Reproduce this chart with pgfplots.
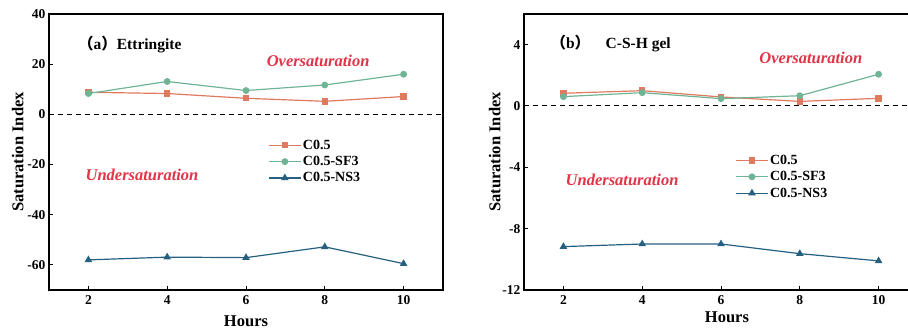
\documentclass[border=0pt]{standalone}
\usepackage{pgfplots}
\pgfplotsset{compat=1.18}
\usepackage{fontspec}
\setmainfont{Liberation Serif}
\newfontfamily\cjk{Noto Sans CJK SC}
\definecolor{cA}{RGB}{224,122,95}
\definecolor{cB}{RGB}{112,180,150}
\definecolor{cC}{RGB}{38,96,128}
\definecolor{cR}{RGB}{224,52,72}
\pgfplotsset{
  myax/.style={
    scale only axis, width=394pt, height=276pt,
    anchor=south west,
    xmin=1, xmax=11,
    xtick={2,4,6,8,10},
    tick align=inside,
    xtick pos=bottom, ytick pos=left,
    major tick length=4pt,
    axis line style={line width=1.3pt},
    every tick/.style={black, line width=1pt},
    tick label style={font=\bfseries\fontsize{13.5}{13.5}\selectfont},
    /pgf/number format/assume math mode=true,
    xticklabel style={yshift=-2pt},
    label style={font=\bfseries\fontsize{16.5}{16.5}\selectfont},
    xlabel={Hours},
    ylabel={Saturation Index},
    xlabel style={at={(axis description cs:0.5,-0.112)}, anchor=center},
    legend cell align=left,
    legend style={draw=none, fill=none, font=\bfseries\fontsize{14}{14}\selectfont,
      row sep=2.5pt, inner sep=0pt, nodes={inner sep=1.5pt}},
    every axis legend/.append style={anchor=north west},
    clip=false,
  },
  sA/.style={color=cA, line width=1.2pt, mark=square*, mark size=2.6pt},
  sB/.style={color=cB, line width=1.2pt, mark=*, mark size=2.8pt},
  sC/.style={color=cC, line width=1.2pt, mark=triangle*, mark size=3.2pt},
}
\pgfplotsset{legend image code/.code={
  \draw[mark repeat=2,mark phase=2] plot coordinates {(0pt,0pt) (16pt,0pt) (32pt,0pt)};}}
\begin{document}
\begin{tikzpicture}[x=1pt,y=1pt]
\begin{axis}[myax, at={(49pt,39pt)},
  ymin=-70, ymax=40, ytick={-60,-40,-20,0,20,40},
  ylabel style={at={(axis description cs:-0.079,0.5)}, anchor=center},
  legend style={at={(rel axis cs:0.556,0.55)}},
]
\addplot[sA] coordinates {(2,8.8) (4,8.3) (6,6.4) (8,5.2) (10,7.1)};
\addlegendentry{C0.5}
\addplot[sB] coordinates {(2,8.3) (4,13.1) (6,9.5) (8,11.7) (10,16.0)};
\addlegendentry{C0.5-SF3}
\addplot[sC] coordinates {(2,-58.0) (4,-56.9) (6,-57.1) (8,-52.8) (10,-59.5)};
\addlegendentry{C0.5-NS3}
\draw[black, line width=1pt, dash pattern=on 5pt off 4pt] (axis cs:1,0) -- (axis cs:11,0);
\node[font=\bfseries\fontsize{15.5}{15.5}\selectfont] at (axis cs:3.05,28) {{\cjk （}a{\cjk ）}Ettringite};
\node[font=\bfseries\itshape\fontsize{16.5}{16.5}\selectfont, text=cR] at (axis cs:7.83,21.3) {Oversaturation};
\node[font=\bfseries\itshape\fontsize{16.5}{16.5}\selectfont, text=cR] at (axis cs:3.36,-24.2) {Undersaturation};
\end{axis}
\begin{axis}[myax, at={(524pt,39pt)},
  ymin=-12, ymax=6, ytick={-12,-8,-4,0,4},
  ylabel style={at={(axis description cs:-0.074,0.5)}, anchor=center},
  xlabel style={at={(axis description cs:0.515,-0.10)}},
  legend style={at={(rel axis cs:0.536,0.495)}},
]
\addplot[sA] coordinates {(2,0.83) (4,1.0) (6,0.59) (8,0.30) (10,0.50)};
\addlegendentry{C0.5}
\addplot[sB] coordinates {(2,0.61) (4,0.87) (6,0.48) (8,0.67) (10,2.07)};
\addlegendentry{C0.5-SF3}
\addplot[sC] coordinates {(2,-9.17) (4,-9.0) (6,-9.0) (8,-9.63) (10,-10.1)};
\addlegendentry{C0.5-NS3}
\draw[black, line width=1pt, dash pattern=on 5pt off 4pt] (axis cs:1,0) -- (axis cs:11,0);
\node[font=\bfseries\fontsize{15.5}{15.5}\selectfont] at (axis cs:3.2,4.1) {{\cjk （}b{\cjk ）}\quad C-S-H gel};
\node[font=\bfseries\itshape\fontsize{16.5}{16.5}\selectfont, text=cR] at (axis cs:8.28,3.13) {Oversaturation};
\node[font=\bfseries\itshape\fontsize{16.5}{16.5}\selectfont, text=cR] at (axis cs:3.49,-4.83) {Undersaturation};
\end{axis}
\pgfresetboundingbox
\useasboundingbox (0,0) rectangle (908pt,329pt);
\end{tikzpicture}
\end{document}
